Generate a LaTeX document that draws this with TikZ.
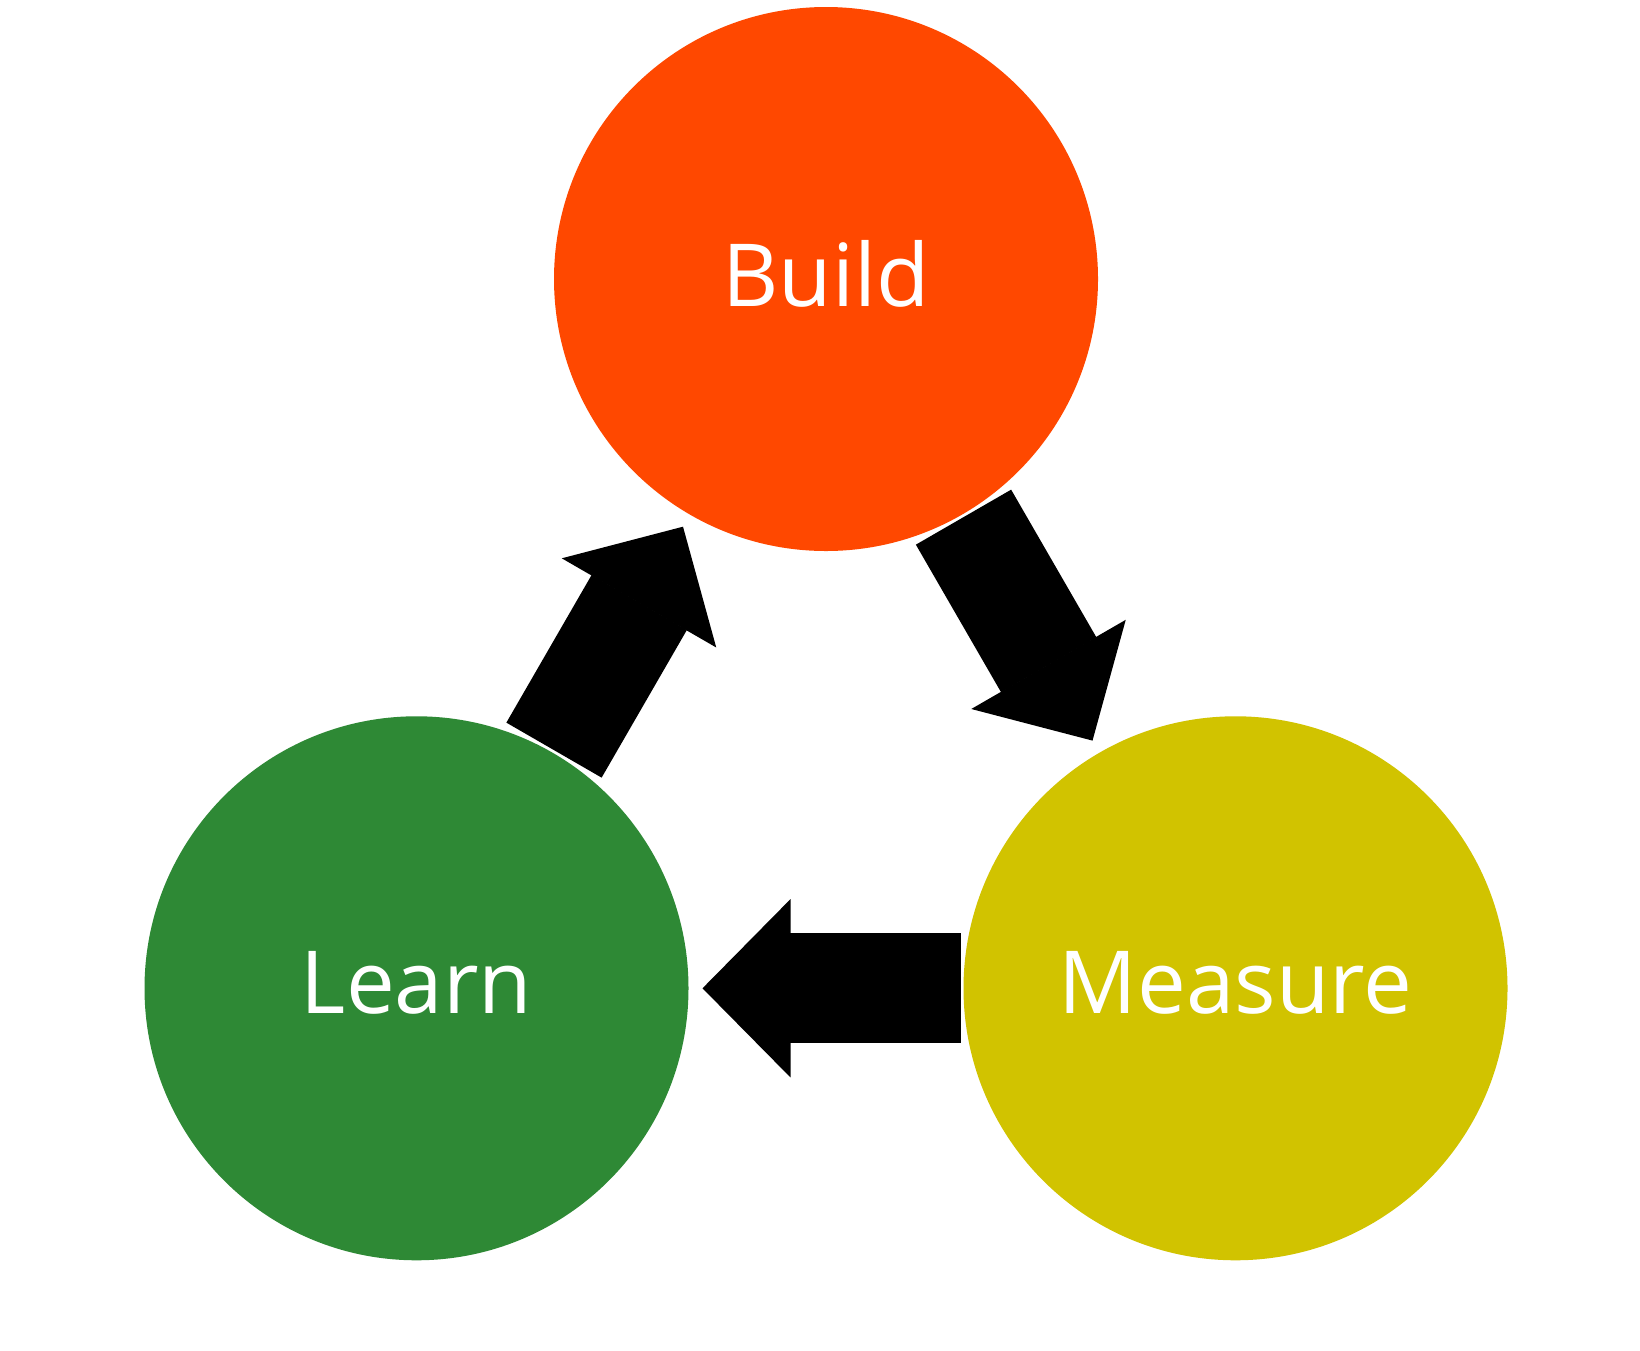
\documentclass[tikz,border=0pt]{standalone}
\usepackage{fontspec}
\setmainfont{Open Sans}
\usetikzlibrary{arrows.meta}
\definecolor{buildred}{RGB}{255,72,0}
\definecolor{learngreen}{RGB}{46,137,53}
\definecolor{measureyellow}{RGB}{209,195,0}

\begin{document}
\begin{tikzpicture}[x=1pt,y=-1pt,
  stage/.style={circle,minimum size=544pt,inner sep=0pt,outer sep=0pt,
    text=white,font=\fontsize{87}{100}\selectfont,text depth=12pt},
  cyclearrow/.style={line width=110pt,
    -{Triangle[width=178pt,length=88pt,line width=2pt]},
    shorten <=3pt,shorten >=14pt}]
\pgfmathsetmacro\side{819}
\pgfmathsetmacro\bx{826}
\pgfmathsetmacro\by{279}
\pgfmathsetmacro\dx{\side/2}
\pgfmathsetmacro\dy{\side*sin(60)}

\useasboundingbox (0,0) rectangle (1640,1350);
\fill[white] (0,0) rectangle (1640,1350);

\node[stage,fill=buildred] (build) at (\bx,\by) {Build};
\node[stage,fill=learngreen] (learn) at (\bx-\dx,\by+\dy) {Learn};
\node[stage,fill=measureyellow] (measure) at (\bx+\dx,\by+\dy) {Measure};

% build -> measure -> learn -> build
\foreach \from/\to in {build/measure,measure/learn,learn/build} {
  \draw[cyclearrow] (\from) -- (\to);
}
\end{tikzpicture}
\end{document}
